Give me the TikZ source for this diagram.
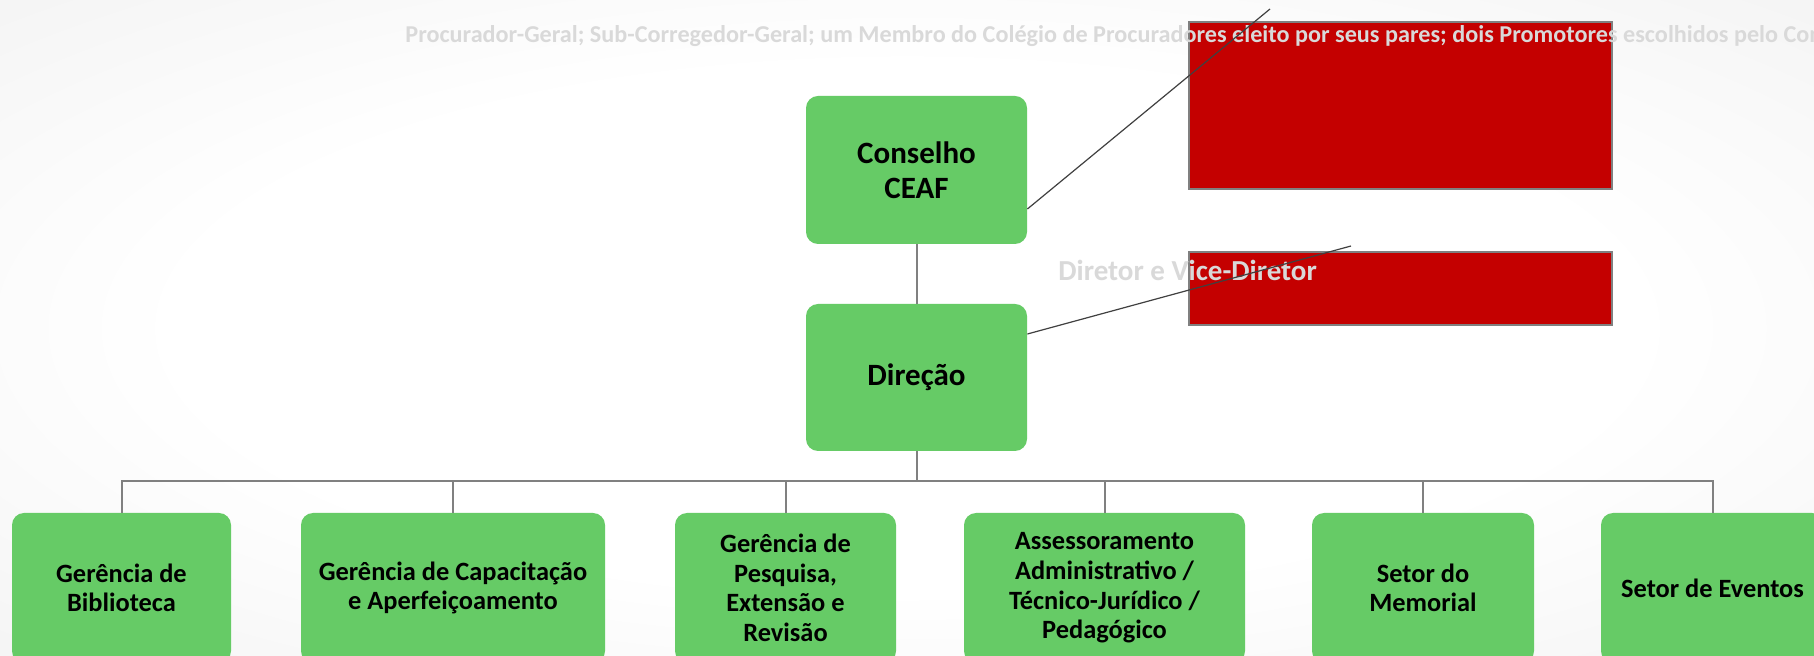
\documentclass[tikz,border=0pt]{standalone}
\usepackage{fontspec}
\setmainfont{Carlito}
\usetikzlibrary{calc}
\definecolor{boxgreen}{RGB}{102,203,102}
\definecolor{boxred}{RGB}{196,0,0}
\definecolor{linegray}{RGB}{128,128,128}
\definecolor{calloutgray}{RGB}{64,64,64}
\definecolor{faint}{RGB}{217,217,217}
\pgfdeclareradialshading{bgshade}{\pgfpoint{0bp}{0bp}}{color(0bp)=(white); color(20bp)=(white); color(50bp)=(black!8); color(71bp)=(black!15)}
\begin{document}
\begin{tikzpicture}[x=0.5pt,y=-0.5pt,
  gbox/.style={draw=none, fill=boxgreen, rounded corners=6pt, align=center, font=\bfseries\fontsize{15.5}{17.5}\selectfont, inner sep=2pt},
  lowbox/.style={gbox, minimum height=75pt, font=\bfseries\fontsize{13.2}{14.8}\selectfont},
  redbox/.style={draw=linegray, line width=0.75pt, fill=boxred, minimum width=211.5pt, inner sep=0pt},
  tree/.style={draw=linegray, line width=1pt},
  callout/.style={draw=calloutgray, line width=0.6pt},
  faintlabel/.style={text=faint, inner sep=0pt}]

\useasboundingbox (0,0) rectangle (1814,656);
\shade[shading=bgshade] (0,0) rectangle (1814,656);
\clip (0,0) rectangle (1814,656);

% red boxes
\node[redbox, minimum height=83.5pt] (r1) at (1400.5,105.5) {};
\node[redbox, minimum height=36.5pt] (r2) at (1400.5,288.5) {};

% faint labels
\node[faintlabel, anchor=base west, font=\bfseries\fontsize{12.1}{14}\selectfont] (title) at (405,43)
  {Procurador-Geral; Sub-Corregedor-Geral; um Membro do Colégio de Procuradores eleito por seus pares; dois Promotores escolhidos pelo Conselho};
\node[faintlabel, anchor=base west, font=\bfseries\fontsize{14.5}{17}\selectfont] (dlabel) at (1058,281) {Diretor e Vice-Diretor};

% green boxes
\node[gbox, minimum width=110.5pt, minimum height=74pt] (cons) at (916.5,170) {Conselho\\CEAF};
\node[gbox, minimum width=110.5pt, minimum height=73.5pt] (dir) at (916.5,377.5) {Direção};

\node[lowbox, minimum width=109.5pt] (b1) at (121.5,588) {Gerência de\\Biblioteca};
\node[lowbox, minimum width=152pt] (b2) at (453,588) {Gerência de Capacitação\\e Aperfeiçoamento};
\node[lowbox, minimum width=110.5pt] (b3) at (785.5,588) {Gerência de\\Pesquisa,\\Extensão e\\Revisão};
\node[lowbox, minimum width=140.5pt] (b4) at (1104.5,588) {Assessoramento\\Administrativo /\\Técnico-Jurídico /\\Pedagógico};
\node[lowbox, minimum width=111pt] (b5) at (1423,588) {Setor do\\Memorial};
\node[lowbox, minimum width=111.5pt] (b6) at (1712.5,588) {Setor de Eventos};

% callout lines
\coordinate (t1) at (1270,9);
\coordinate (t2) at (1351,246);
\draw[callout] ([yshift=-19.5pt]cons.east) -- (t1);
\draw[callout] ([yshift=21.75pt]dir.east) -- (t2);

% tree
\coordinate (bus) at (916.5,481);
\draw[tree] (cons.south) -- (dir.north);
\draw[tree] (dir.south) -- (bus);
\foreach \b in {b1,b2,b3,b4,b5,b6} {\draw[tree] (bus) -| (\b.north);}
\end{tikzpicture}
\end{document}
